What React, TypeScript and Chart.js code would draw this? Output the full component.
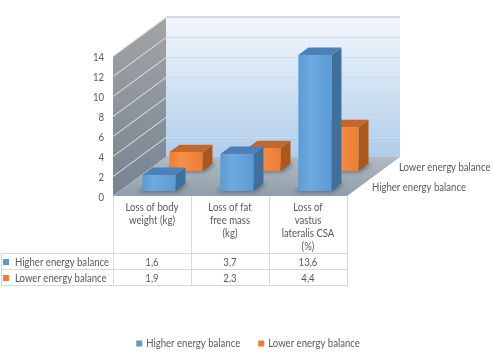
import React, { useEffect, useRef } from "react";
import { Chart, registerables } from "chart.js";

Chart.register(...registerables);

// ---------- data ----------
const categories: string[][] = [
  ["Loss of body", "weight (kg)"],
  ["Loss of fat", "free mass", "(kg)"],
  ["Loss of", "vastus", "lateralis CSA", "(%)"],
];
const seriesNames = ["Higher energy balance", "Lower energy balance"];
const higherValues = [1.6, 3.7, 13.6];
const lowerValues = [1.9, 2.3, 4.4];
const yTicks = [0, 2, 4, 6, 8, 10, 12, 14];

// ---------- style ----------
const W = 493;
const H = 353;
const FONT = '11px Lato, "Liberation Sans", Arial, sans-serif';
const TEXT_SX = 0.87; // horizontal squeeze to mimic a narrow font
const TEXT = "#595959";
const GRID = "#d9d9d9";
const DEPTH = { dx: 53, dy: -39 };
const ROWS = [
  { t0: 0.13, t1: 0.32 },
  { t0: 0.64, t1: 0.83 },
];
const COLORS = [
  { front: "#5b9bd5", light: "#6eaae0", side: "#3f6f9d", top: "#4d80b6" },
  { front: "#ed7d31", light: "#f68f47", side: "#ad581a", top: "#c3682c" },
];

const fmt = (v: number) => String(v).replace(".", ",");

function poly(ctx: CanvasRenderingContext2D, pts: number[][]) {
  ctx.beginPath();
  ctx.moveTo(pts[0][0], pts[0][1]);
  for (let i = 1; i < pts.length; i++) ctx.lineTo(pts[i][0], pts[i][1]);
  ctx.closePath();
}

function line(ctx: CanvasRenderingContext2D, x1: number, y1: number, x2: number, y2: number) {
  ctx.beginPath();
  ctx.moveTo(x1, y1);
  ctx.lineTo(x2, y2);
  ctx.stroke();
}

function text(ctx: CanvasRenderingContext2D, s: string, x: number, y: number) {
  ctx.save();
  ctx.translate(x, y);
  ctx.scale(TEXT_SX, 1);
  ctx.fillText(s, 0, 0);
  ctx.restore();
}

const threeD = {
  id: "threeD",
  beforeDatasetsDraw(chart: any) {
    const ctx: CanvasRenderingContext2D = chart.ctx;
    const { left: L, right: R, top: T, bottom: B } = chart.chartArea;
    const y = chart.scales.y;
    const { dx, dy } = DEPTH;
    ctx.save();

    // back wall
    let g = ctx.createLinearGradient(0, T + dy, 0, B + dy);
    g.addColorStop(0, "#f2f7fc");
    g.addColorStop(1, "#afcdea");
    ctx.fillStyle = g;
    ctx.fillRect(L + dx, T + dy, R - L, B - T);
    ctx.strokeStyle = "#dcdcdc";
    ctx.lineWidth = 1;
    line(ctx, L + dx, T + dy - 0.5, R + dx, T + dy - 0.5);

    // side wall
    g = ctx.createLinearGradient(0, T + dy, 0, B);
    g.addColorStop(0, "#a3a4a6");
    g.addColorStop(1, "#768491");
    ctx.fillStyle = g;
    poly(ctx, [[L, B], [L, T], [L + dx, T + dy], [L + dx, B + dy]]);
    ctx.fill();

    // floor
    g = ctx.createLinearGradient(0, B + dy, 0, B);
    g.addColorStop(0, "#b0bac4");
    g.addColorStop(1, "#919eaa");
    ctx.fillStyle = g;
    poly(ctx, [[L, B], [R, B], [R + dx, B + dy], [L + dx, B + dy]]);
    ctx.fill();

    // gridlines
    yTicks.forEach((v) => {
      const py = Math.round(y.getPixelForValue(v)) + 0.5;
      if (v > 0) {
        ctx.strokeStyle = "#d2dae3";
        line(ctx, L + dx, py + dy, R + dx, py + dy);
        ctx.strokeStyle = "rgba(240,240,240,0.9)";
        line(ctx, L, py, L + dx, py + dy);
      }
    });

    // shadows on floor
    ctx.filter = "blur(2px)";
    ctx.fillStyle = "rgba(45,55,65,0.55)";
    chart.data.datasets.forEach((_: any, di: number) => {
      const meta = chart.getDatasetMeta(di);
      const r = ROWS[di];
      meta.data.forEach((el: any) => {
        const p = el.getProps(["x", "base", "width"], true);
        const x0 = p.x - p.width / 2 + dx * r.t0;
        const yb = p.base + dy * r.t0;
        const bx = dx * (r.t1 - r.t0);
        const by = dy * (r.t1 - r.t0);
        poly(ctx, [
          [x0 - 4, yb + 1],
          [x0 + p.width + 2, yb + 1],
          [x0 + p.width + bx + 3, yb + by],
          [x0 + bx - 2, yb + by],
        ]);
        ctx.fill();
      });
    });
    ctx.filter = "none";

    // y tick labels
    ctx.font = FONT;
    ctx.fillStyle = TEXT;
    ctx.textAlign = "right";
    ctx.textBaseline = "middle";
    yTicks.forEach((v) => {
      text(ctx, String(v), L - 9, y.getPixelForValue(v) + 1);
    });

    // depth (series) labels
    ctx.textAlign = "left";
    seriesNames.forEach((name, i) => {
      const tc = (ROWS[i].t0 + ROWS[i].t1) / 2;
      text(ctx, name, R + dx * tc + 13, B + dy * tc);
    });
    ctx.restore();
  },
  beforeDatasetDraw() {
    return false;
  },
  afterDatasetsDraw(chart: any) {
    const ctx: CanvasRenderingContext2D = chart.ctx;
    const { dx, dy } = DEPTH;
    ctx.save();
    for (let di = chart.data.datasets.length - 1; di >= 0; di--) {
      const meta = chart.getDatasetMeta(di);
      const r = ROWS[di];
      const c = COLORS[di];
      meta.data.forEach((el: any) => {
        const p = el.getProps(["x", "y", "base", "width"], true);
        const left = p.x - p.width / 2 + dx * r.t0;
        const right = left + p.width;
        const top = p.y + dy * r.t0;
        const bottom = p.base + dy * r.t0;
        const bx = dx * (r.t1 - r.t0);
        const by = dy * (r.t1 - r.t0);
        // side
        ctx.fillStyle = c.side;
        poly(ctx, [[right, top], [right + bx, top + by], [right + bx, bottom + by], [right, bottom]]);
        ctx.fill();
        // top
        ctx.fillStyle = c.top;
        poly(ctx, [[left, top], [right, top], [right + bx, top + by], [left + bx, top + by]]);
        ctx.fill();
        // front
        const g = ctx.createLinearGradient(left, 0, right, 0);
        g.addColorStop(0, c.front);
        g.addColorStop(0.35, c.light);
        g.addColorStop(1, c.front);
        ctx.fillStyle = g;
        ctx.fillRect(left, top, right - left, bottom - top);
      });
    }
    ctx.restore();
  },
  afterDraw(chart: any) {
    const ctx: CanvasRenderingContext2D = chart.ctx;
    const { left: L, right: R, bottom: B } = chart.chartArea;
    const x = chart.scales.x;
    const n = categories.length;
    const colW = (R - L) / n;
    const headerBottom = 253;
    const rowH = 16;
    const tableBottom = headerBottom + rowH * seriesNames.length;
    ctx.save();
    ctx.strokeStyle = GRID;
    ctx.lineWidth = 1;
    // vertical lines
    for (let k = 0; k <= n; k++) {
      const px = Math.round(L + k * colW) + 0.5;
      line(ctx, px, B, px, tableBottom + 0.5);
    }
    line(ctx, 1.5, headerBottom, 1.5, tableBottom + 0.5);
    for (let r = 0; r <= seriesNames.length; r++) {
      const py = headerBottom + r * rowH + 0.5;
      line(ctx, 1, py, R + 1, py);
    }
    // header text
    ctx.font = FONT;
    ctx.fillStyle = TEXT;
    ctx.textAlign = "center";
    ctx.textBaseline = "middle";
    categories.forEach((lines, i) => {
      const cx = x.getPixelForValue(i);
      lines.forEach((t, j) => text(ctx, t, cx, B + 11 + j * 13.3));
    });
    // rows
    const data = [higherValues, lowerValues];
    seriesNames.forEach((name, r) => {
      const cy = headerBottom + r * rowH + rowH / 2 + 1;
      ctx.fillStyle = COLORS[r].front;
      ctx.fillRect(3, cy - 3, 6, 6);
      ctx.fillStyle = TEXT;
      ctx.textAlign = "left";
      text(ctx, name, 15, cy);
      ctx.textAlign = "center";
      data[r].forEach((v, i) => text(ctx, fmt(v), x.getPixelForValue(i), cy));
    });
    // bottom legend
    const box = 6;
    const gap = 4;
    const spacing = 18;
    const widths = seriesNames.map((s) => ctx.measureText(s).width * TEXT_SX);
    const total = widths.reduce((a, b) => a + b + box + gap, 0) + spacing * (seriesNames.length - 1);
    let lx = 248 - total / 2;
    const ly = 343.5;
    ctx.textAlign = "left";
    seriesNames.forEach((name, i) => {
      ctx.fillStyle = COLORS[i].front;
      ctx.fillRect(lx, ly - box / 2, box, box);
      ctx.fillStyle = TEXT;
      text(ctx, name, lx + box + gap, ly);
      lx += box + gap + widths[i] + spacing;
    });
    ctx.restore();
  },
};

export default function App() {
  const ref = useRef<HTMLCanvasElement>(null);
  useEffect(() => {
    if (!ref.current) return;
    const chart = new Chart(ref.current, {
      type: "bar",
      data: {
        labels: categories.map((c) => c.join(" ")),
        datasets: [
          { label: seriesNames[0], data: higherValues, backgroundColor: COLORS[0].front, barThickness: 33, grouped: false } as any,
          { label: seriesNames[1], data: lowerValues, backgroundColor: COLORS[1].front, barThickness: 33, grouped: false } as any,
        ],
      },
      options: {
        responsive: false,
        animation: false,
        layout: { padding: { left: 113, top: 56, right: W - 347, bottom: H - 196 } },
        scales: {
          x: { type: "category", display: false, offset: true },
          y: { min: 0, max: 14, display: false },
        },
        plugins: { legend: { display: false }, tooltip: { enabled: false } },
      },
      plugins: [threeD as any],
    });
    return () => chart.destroy();
  }, []);
  return (
    <div style={{ position: "fixed", left: 0, top: 0, width: W, height: H, background: "#fff" }}>
      <canvas ref={ref} width={W} height={H} style={{ display: "block" }} />
    </div>
  );
}
